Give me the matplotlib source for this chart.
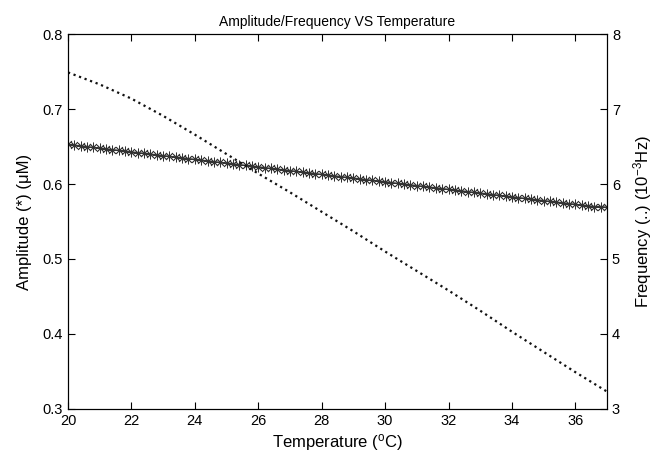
import matplotlib
matplotlib.use("Agg")
import matplotlib.pyplot as plt
import numpy as np

plt.rcParams['font.family'] = ['Liberation Sans', 'DejaVu Sans']
plt.rcParams['mathtext.default'] = 'regular'

#==== data ====#
# amplitude, sampled every 0.2 degC
temp_amp = np.arange(20.0, 37.01, 0.2)
amplitude = [0.653, 0.652, 0.651, 0.650, 0.649, 0.648, 0.647, 0.646, 0.645, 0.644,
             0.643, 0.642, 0.641, 0.640, 0.639, 0.638, 0.637, 0.636, 0.635, 0.634,
             0.633, 0.632, 0.631, 0.630, 0.629, 0.628, 0.627, 0.626, 0.625, 0.624,
             0.623, 0.622, 0.621, 0.620, 0.619, 0.618, 0.617, 0.616, 0.615, 0.614,
             0.613, 0.612, 0.611, 0.610, 0.609, 0.608, 0.607, 0.606, 0.605, 0.604,
             0.603, 0.602, 0.601, 0.600, 0.599, 0.598, 0.597, 0.596, 0.595, 0.594,
             0.593, 0.592, 0.591, 0.590, 0.589, 0.588, 0.587, 0.586, 0.585, 0.584,
             0.583, 0.582, 0.581, 0.580, 0.579, 0.578, 0.577, 0.576, 0.575, 0.574,
             0.573, 0.572, 0.571, 0.570, 0.570, 0.569]

# frequency (10^-3 Hz), every 1 degC
temp_freq = [20, 21, 22, 23, 24, 25, 26, 27, 28, 29, 30, 31, 32, 33, 34, 35, 36, 37]
frequency = [7.49, 7.33, 7.14, 6.91, 6.66, 6.40, 6.14, 5.89, 5.63, 5.37,
             5.10, 4.84, 4.58, 4.31, 4.03, 3.76, 3.49, 3.23]

fig = plt.figure(figsize=(6.57, 4.62), dpi=100)
ax = fig.add_axes([0.1035, 0.115, 0.8205, 0.811])
ax2 = ax.twinx()

# matlab-style asterisk marker
ax.plot(temp_amp[:len(amplitude)], amplitude, color='#333333', marker=(8, 2, 0),
        markersize=7, linewidth=0.9, markeredgewidth=0.6)
ax2.plot(temp_freq, frequency, color='#111111', linestyle=':', linewidth=1.6)

ax.set_xlim(20, 37)
ax.set_ylim(0.3, 0.8)
ax2.set_ylim(3, 8)
ax.set_xticks(np.arange(20, 37, 2))
ax.set_yticks([0.3, 0.4, 0.5, 0.6, 0.7, 0.8])
ax2.set_yticks([3, 4, 5, 6, 7, 8])

ax.tick_params(axis='x', direction='in', top=True, labelsize=10.5, length=5)
ax.tick_params(axis='y', direction='in', labelsize=10.5, length=5)
ax2.tick_params(axis='y', direction='in', labelsize=10.5, length=5)

ax.set_title('Amplitude/Frequency VS Temperature', fontsize=10, pad=6)
ax.set_xlabel('Temperature ($^{o}$C)', fontsize=12, labelpad=3)
ax.set_ylabel('Amplitude (*) (\u03bcM)', fontsize=12, labelpad=8)
ax2.set_ylabel('Frequency (..) (10$^{-3}$Hz)', fontsize=12, labelpad=8)

plt.savefig('out.png', dpi=100)
